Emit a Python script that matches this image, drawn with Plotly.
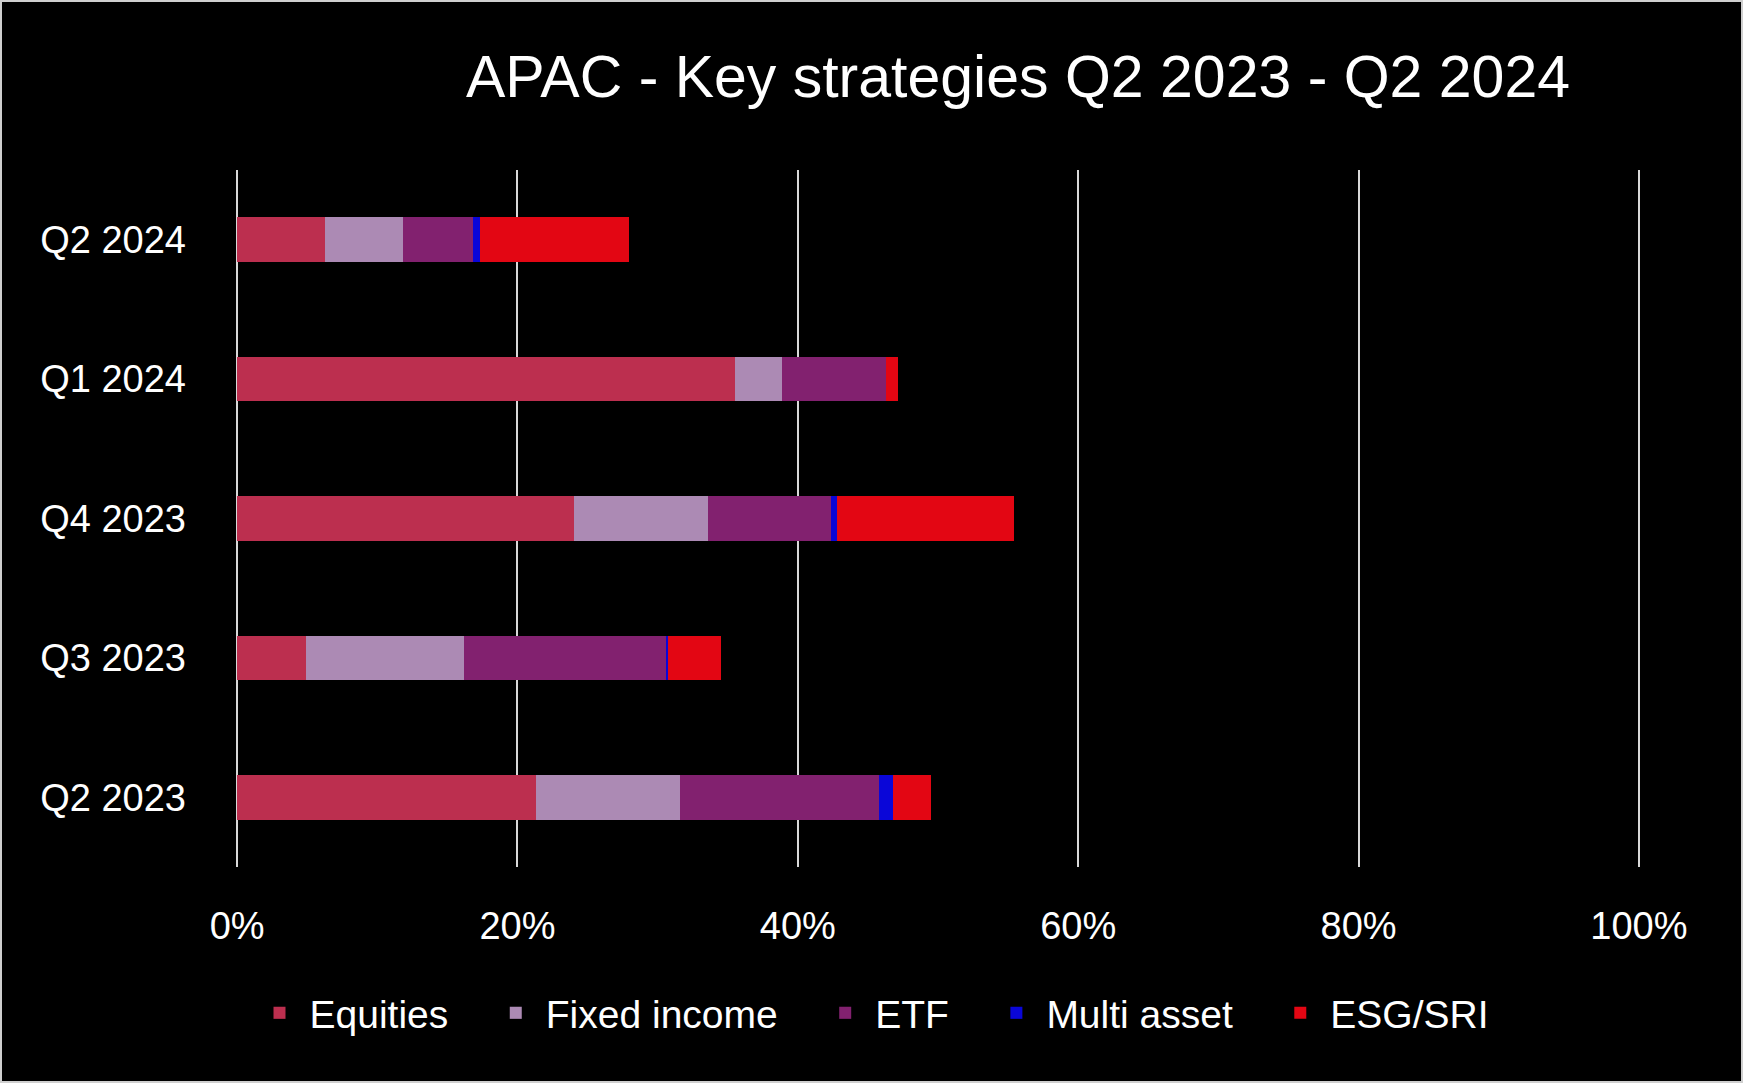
import plotly.graph_objects as go

categories = ["Q2 2023", "Q3 2023", "Q4 2023", "Q1 2024", "Q2 2024"]
equities = [21.3, 4.9, 24.0, 35.5, 6.3]
fixed_income = [10.3, 11.3, 9.6, 3.4, 5.5]
etf = [14.2, 14.4, 8.8, 7.4, 5.0]
multi_asset = [1.0, 0.13, 0.4, 0.0, 0.55]
esg_sri = [2.7, 3.8, 12.6, 0.85, 10.6]
x_ticks = [0, 20, 40, 60, 80, 100]
x_tick_labels = ["0%", "20%", "40%", "60%", "80%", "100%"]

series = [
    ("Equities", equities, "#BC2F4F"),
    ("Fixed income", fixed_income, "#AC8AB4"),
    ("ETF", etf, "#82216F"),
    ("Multi asset", multi_asset, "#0A06D8"),
    ("ESG/SRI", esg_sri, "#E30613"),
]

FONT = "Liberation Sans"
PAD = "\u00a0" * 3
fig = go.Figure()
for i, (name, vals, color) in enumerate(series):
    fig.add_trace(go.Bar(
        y=categories, x=vals, name=name + (PAD if i < len(series) - 1 else ""),
        orientation="h", hovertemplate=name + ": %{x}%<extra></extra>",
        marker=dict(color=color, line=dict(width=0)),
    ))

W, H = 1743, 1083
L, R, T, B = 235, 102, 170, 216
pw, ph = W - L - R, H - T - B

fig.update_layout(
    width=W, height=H,
    barmode="stack", bargap=0.68,
    paper_bgcolor="black", plot_bgcolor="black",
    margin=dict(l=L, r=R, t=T, b=B, pad=0),
    font=dict(family=FONT, color="white", size=38),
    title=dict(text="APAC - Key strategies Q2 2023 - Q2 2024",
               x=1018 / W, xanchor="center", xref="container",
               y=1 - 76 / H, yanchor="middle", yref="container",
               font=dict(size=59, color="white", family=FONT)),
    xaxis=dict(range=[-0.15, 100.15], tickvals=x_ticks, ticktext=x_tick_labels,
               showgrid=True, gridcolor="#d9d9d9", gridwidth=2,
               zeroline=False, showline=False, ticks="",
               ticklabelstandoff=33, tickfont=dict(size=38)),
    yaxis=dict(showgrid=False, zeroline=False, showline=False, ticks="",
               ticklabelstandoff=48, tickfont=dict(size=38),
               range=[-0.5, 4.5]),
    legend=dict(orientation="h", xref="container", yref="container",
                x=0.5, xanchor="center", y=1 - 1013 / H, yanchor="middle",
                font=dict(size=39), traceorder="normal", itemwidth=50),
    shapes=[dict(type="rect", xref="paper", yref="paper",
                 x0=-(L - 1) / pw, x1=1 + (R - 1) / pw,
                 y0=-(B - 1) / ph, y1=1 + (T - 1) / ph,
                 line=dict(color="#cfcfcf", width=2), layer="below")],
)

fig.write_html("out.html", config={"displayModeBar": False},
               post_script="document.body.style.margin='0';")
